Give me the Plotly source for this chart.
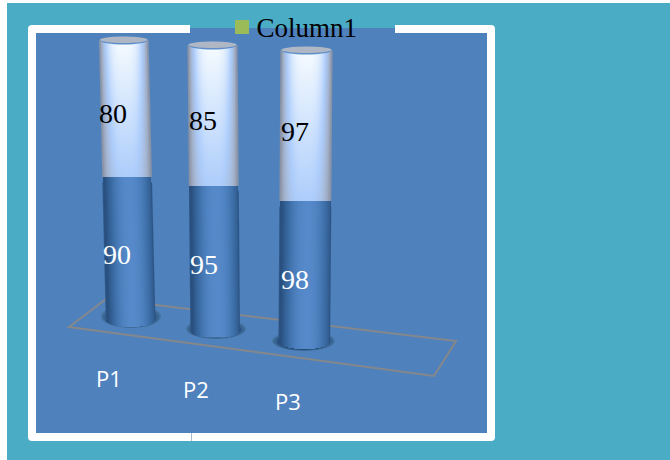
import numpy as np
import plotly.graph_objects as go

categories = ["P1", "P2", "P3"]
lower_values = [90, 95, 98]
upper_values = [80, 85, 97]
series_name = "Column1"

W, H = 670, 460
TEAL, BLUE, WHITE = "#4BACC6", "#4F81BD", "#FFFFFF"

# projected geometry of each column (pixels): layout only
geo = [
    dict(top=40, split=177, bottom=326.5, tl=99.5, tr=148, bl=106.5, br=155,
         cat=(109, 378), lab_u=(113, 113), lab_l=(117, 254),
         shadow=(101, 161, 305, 328)),
    dict(top=45, split=185.5, bottom=337, tl=188, tr=237, bl=191, br=239.5,
         cat=(196, 389), lab_u=(203, 120), lab_l=(204, 264),
         shadow=(186, 246, 319, 339)),
    dict(top=50, split=201, bottom=349, tl=281, tr=332, bl=279, br=329.5,
         cat=(288, 401), lab_u=(295, 131), lab_l=(295, 279),
         shadow=(272, 335, 331, 351)),
]
RY_SPLIT, RY_BOTTOM = 2.5, 6.0

LOWER_SCALE = [[0, "#29507F"], [0.5, "#3B6CA5"], [1, "#5589C9"]]
UPPER_SCALE = [[0, "#878FA0"], [0.3, "#A3B2CC"], [0.6, "#ADCDFB"], [1, "#F6FBFF"]]

HIDDEN = dict(showticklabels=False, showgrid=False, zeroline=False, showline=False,
              ticks="", fixedrange=True)

fig = go.Figure()
layout_axes = {}
axis_n = 1


def new_axis(base_px, scale):
    global axis_n
    axis_n += 1
    layout_axes[f"yaxis{axis_n}"] = dict(
        overlaying="y", range=[(base_px - H) / scale, base_px / scale], **HIDDEN)
    return f"y{axis_n}"


def edges_at(g, py):
    f = (py - g["top"]) / (g["bottom"] - g["top"])
    return g["tl"] + (g["bl"] - g["tl"]) * f, g["tr"] + (g["br"] - g["tr"]) * f


def column_shading(g, value, base_px, scale, upper, yref, name):
    x = np.arange(int(min(g["tl"], g["bl"])) - 1, int(max(g["tr"], g["br"])) + 2) + 0.5
    rows = int(round(value * scale))
    y = (np.arange(rows) + 0.5) / rows * value
    z = np.full((rows, len(x)), np.nan)
    for i, v in enumerate(y):
        py = base_px - scale * v
        left, right = edges_at(g, py)
        cx, hw = (left + right) / 2, (right - left) / 2
        u = (x - cx) / hw
        inside = np.abs(u) <= 1
        arc = np.sqrt(np.clip(1 - u ** 2, 0, 1))
        if upper:
            t = (g["split"] - py) / (g["split"] - g["top"])
            edge = 1 - np.abs(u) ** 3.2
            val = (0.60 + 0.40 * t) * edge
            inside &= py <= g["split"] + RY_SPLIT * arc
        else:
            val = 1 - np.abs(u - 0.08) ** 2.1
            inside &= py <= g["bottom"] - RY_BOTTOM + RY_BOTTOM * arc
        z[i, inside] = np.clip(val, 0, 1)[inside]
    z_list = [[None if np.isnan(c) else float(c) for c in row] for row in z]
    fig.add_trace(go.Heatmap(
        x=x.tolist(), y=y.tolist(), z=z_list, yaxis=yref, xaxis="x", zmin=0, zmax=1,
        showscale=False, colorscale=UPPER_SCALE if upper else LOWER_SCALE,
        hoverinfo="skip", name=name))
    # soft side edges over the cell grid
    end_v = value if upper else value - RY_BOTTOM / scale * 0.9
    start_v = 0 if upper else RY_BOTTOM / scale
    p0, p1 = base_px - scale * start_v, base_px - scale * min(end_v, value)
    l0, r0 = edges_at(g, p0)
    l1, r1 = edges_at(g, p1)
    color = "rgba(140,148,165,0.9)" if upper else "rgba(44,84,132,0.9)"
    for xs in ((l0, l1), (r0, r1)):
        fig.add_trace(go.Scatter(x=list(xs), y=[start_v, min(end_v, value)], yaxis=yref, xaxis="x",
                                 mode="lines", line=dict(color=color, width=1.2),
                                 hoverinfo="skip", showlegend=False))


shapes = [
    dict(type="rect", x0=7, x1=W, y0=3, y1=H, fillcolor=TEAL, line_width=0),
    dict(type="path", path="M 32 25 L 491 25 Q 495 25 495 29 L 495 437 Q 495 441 491 441 "
                           "L 32 441 Q 28 441 28 437 L 28 29 Q 28 25 32 25 Z",
         fillcolor=WHITE, line_width=0),
    dict(type="rect", x0=36, x1=487, y0=33, y1=433, fillcolor=BLUE, line_width=0),
    dict(type="rect", x0=190, x1=395, y0=25, y1=28, fillcolor=TEAL, line_width=0),
    dict(type="rect", x0=190, x1=395, y0=28, y1=33, fillcolor=BLUE, line_width=0),
    dict(type="line", x0=191.5, x1=191.5, y0=433, y1=441, line=dict(color="#A9BBD2", width=1)),
    dict(type="path", path="M 69 327 L 106 299 L 456 341 L 434 376 Z",
         line=dict(color="#85878A", width=2)),
    dict(type="rect", x0=235, x1=249, y0=20, y1=34, fillcolor="#9BBB59", line_width=0),
]
above = []
annotations = []

for k, g in enumerate(geo):
    x0, x1, y0, y1 = g["shadow"]
    shapes.append(dict(type="circle", x0=x0, x1=x1, y0=y0, y1=y1,
                       fillcolor="#44729F", line_width=0))
    shapes.append(dict(type="circle", x0=x0 + 2, x1=x1 - 2, y0=y0 + 1, y1=y1 - 0.5,
                       fillcolor="#376392", line_width=0))
    shapes.append(dict(type="circle", x0=x0 + 5, x1=x1 - 5, y0=y0 + 2, y1=y1 - 1,
                       fillcolor="#264C7A", line_width=0))

    cxm = (g["tl"] + g["tr"] + g["bl"] + g["br"]) / 4
    low, up = lower_values[k], upper_values[k]

    s_low = (g["bottom"] - g["split"]) / low
    fig.add_trace(go.Bar(x=[cxm], y=[low], yaxis=new_axis(g["bottom"], s_low), xaxis="x", width=20,
                         marker=dict(color="#4F84C4", line_width=0),
                         name=f"{categories[k]} lower", showlegend=False))
    column_shading(g, low, g["bottom"], s_low, False, new_axis(g["bottom"], s_low),
                   f"{categories[k]} lower")

    s_up = (g["split"] - g["top"]) / up
    fig.add_trace(go.Bar(x=[cxm], y=[up], yaxis=new_axis(g["split"], s_up), xaxis="x", width=20,
                         marker=dict(color="#D6E6FD", line_width=0),
                         name=f"{categories[k]} upper", showlegend=False))
    column_shading(g, up, g["split"], s_up, True, new_axis(g["split"], s_up),
                   f"{categories[k]} upper")

    cxt, rx = (g["tl"] + g["tr"]) / 2, (g["tr"] - g["tl"]) / 2 - 0.5
    above.append(dict(type="circle", x0=cxt - rx, x1=cxt + rx, y0=g["top"] - 3.5,
                      y1=g["top"] + 4.5, fillcolor="#5E8FCB", line_width=0))
    above.append(dict(type="circle", x0=cxt - rx, x1=cxt + rx, y0=g["top"] - 3.5,
                      y1=g["top"] + 3, fillcolor="#AFB6C4", line_width=0))

    serif = dict(family="Liberation Serif", size=28)
    annotations.append(dict(x=g["lab_u"][0], y=g["lab_u"][1], text=str(up), showarrow=False,
                            font=dict(color="#000000", **serif)))
    annotations.append(dict(x=g["lab_l"][0], y=g["lab_l"][1], text=str(low), showarrow=False,
                            font=dict(color="#FFFFFF", **serif)))
    annotations.append(dict(x=g["cat"][0], y=g["cat"][1], text=categories[k], showarrow=False,
                            font=dict(color="#FFFFFF", family="Open Sans", size=22)))

fig.add_trace(go.Scatter(x=[0], y=[0], mode="markers", name=series_name, hoverinfo="skip",
                         marker=dict(symbol="square", color="rgba(0,0,0,0)", size=14)))

for s in shapes:
    s["layer"] = "below"
for s in above:
    s["layer"] = "above"

fig.update_layout(
    width=W, height=H, autosize=False,
    margin=dict(l=0, r=0, t=0, b=0, pad=0),
    paper_bgcolor=WHITE, plot_bgcolor="rgba(0,0,0,0)",
    barmode="overlay", showlegend=True,
    xaxis=dict(range=[0, W], **HIDDEN),
    yaxis=dict(range=[H, 0], **HIDDEN),
    legend=dict(x=0.323, y=0.942, xanchor="left", yanchor="middle",
                bgcolor="rgba(0,0,0,0)", borderwidth=0,
                font=dict(family="Liberation Serif", size=27, color="#000000"),
                itemwidth=30),
    shapes=shapes + above,
    annotations=annotations,
    **layout_axes,
)

fig.write_html("out.html", config={"displayModeBar": False},
               post_script="document.body.style.margin='0';")
